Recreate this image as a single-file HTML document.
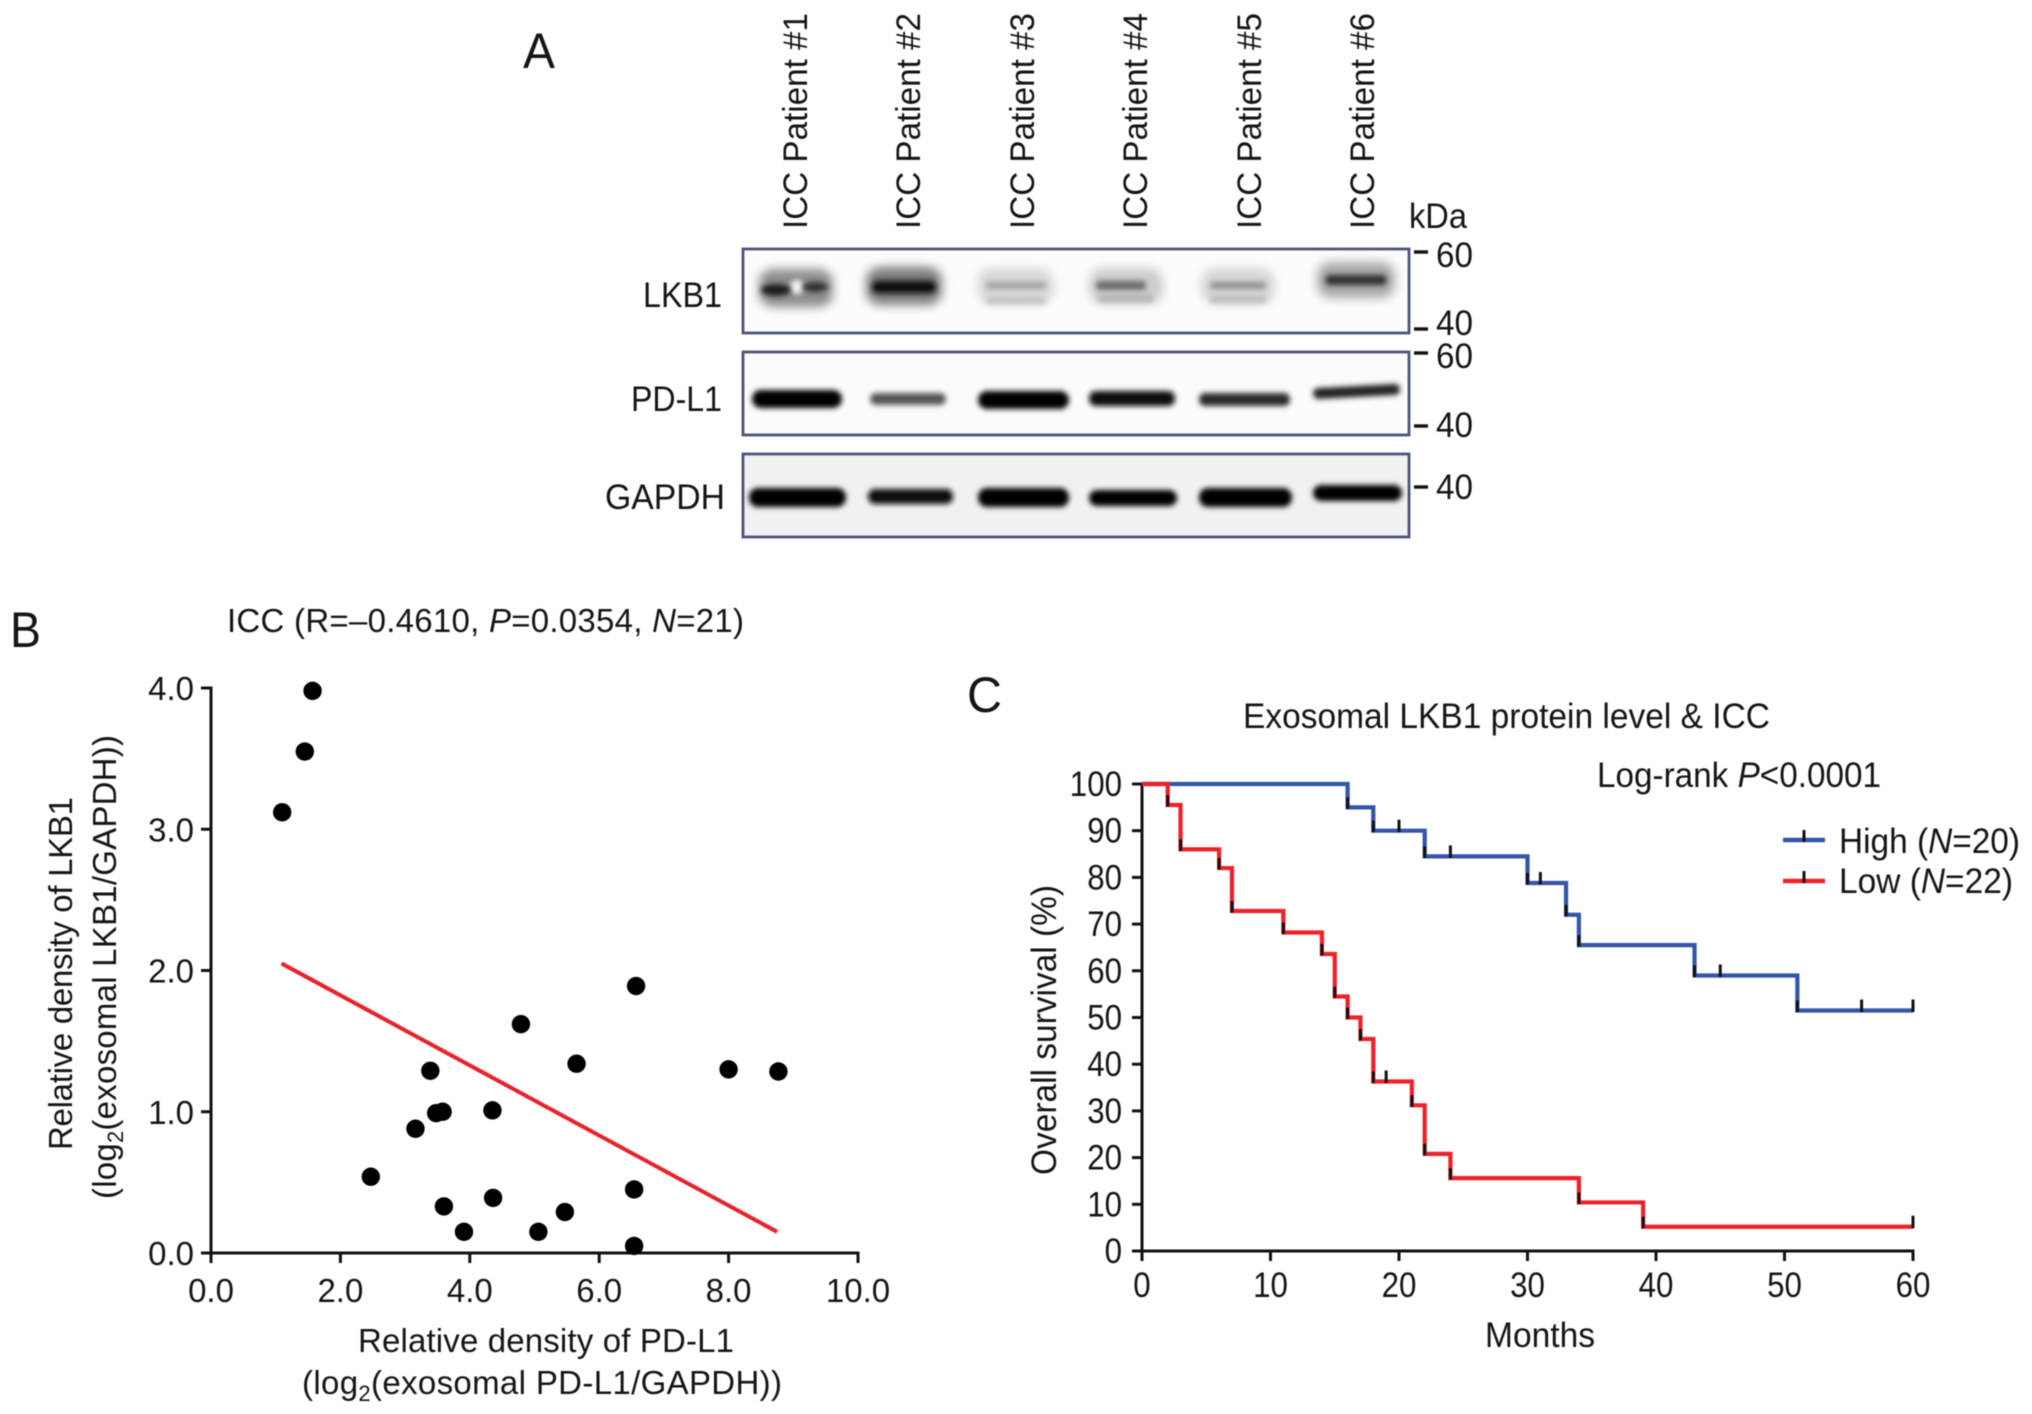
<!DOCTYPE html>
<html lang="en">
<head>
<meta charset="utf-8">
<title>Exosomal LKB1 and PD-L1 in ICC</title>
<style>
html,body{margin:0;padding:0;background:#fff;}
svg{display:block;filter:blur(0.6px);}
text{font-family:"Liberation Sans",Arial,sans-serif;fill:#151515;font-size:33px;}
</style>
</head>
<body>
<svg id="figure" xmlns="http://www.w3.org/2000/svg" width="2032" height="1414" viewBox="0 0 2032 1414">
<defs>
<filter id="b2" x="-30%" y="-100%" width="160%" height="300%"><feGaussianBlur stdDeviation="2.6"/></filter>
<filter id="b4" x="-30%" y="-60%" width="160%" height="220%"><feGaussianBlur stdDeviation="5"/></filter>
<clipPath id="clipL"><rect x="743" y="249" width="666" height="84"/></clipPath>
<clipPath id="clipP"><rect x="743" y="352" width="666" height="83"/></clipPath>
<clipPath id="clipG"><rect x="743" y="454" width="666" height="83"/></clipPath>
</defs>
<rect width="2032" height="1414" fill="#fff"/>

<g>
<text x="523" y="68" style="font-size:50px" textLength="32" lengthAdjust="spacingAndGlyphs">A</text>
<text transform="translate(807,229) rotate(-90)" style="font-size:34px" textLength="216" lengthAdjust="spacingAndGlyphs">ICC Patient #1</text>
<text transform="translate(920,229) rotate(-90)" style="font-size:34px" textLength="216" lengthAdjust="spacingAndGlyphs">ICC Patient #2</text>
<text transform="translate(1034,229) rotate(-90)" style="font-size:34px" textLength="216" lengthAdjust="spacingAndGlyphs">ICC Patient #3</text>
<text transform="translate(1147,229) rotate(-90)" style="font-size:34px" textLength="216" lengthAdjust="spacingAndGlyphs">ICC Patient #4</text>
<text transform="translate(1261,229) rotate(-90)" style="font-size:34px" textLength="216" lengthAdjust="spacingAndGlyphs">ICC Patient #5</text>
<text transform="translate(1374,229) rotate(-90)" style="font-size:34px" textLength="216" lengthAdjust="spacingAndGlyphs">ICC Patient #6</text>
<text x="1409" y="228" style="font-size:35px" textLength="58" lengthAdjust="spacingAndGlyphs">kDa</text>

<g>
<rect x="743" y="249" width="666" height="84" fill="#fcfcfc"/>
<g clip-path="url(#clipL)">
<rect x="759" y="269" width="74" height="38" rx="14" fill="#8c8c8c" filter="url(#b4)"/>
<rect x="866" y="267" width="76" height="38" rx="14" fill="#7c7c7c" filter="url(#b4)"/>
<rect x="977" y="268" width="77" height="36" rx="14" fill="#d8d8d8" filter="url(#b4)"/>
<rect x="1089" y="268" width="74" height="36" rx="14" fill="#cccccc" filter="url(#b4)"/>
<rect x="1201" y="268" width="74" height="36" rx="14" fill="#d6d6d6" filter="url(#b4)"/>
<rect x="1317" y="262" width="78" height="36" rx="14" fill="#a8a8a8" filter="url(#b4)"/>
<ellipse cx="797" cy="287" rx="7" ry="7" fill="#f4f4f4" filter="url(#b2)"/>
<ellipse cx="776" cy="290" rx="15" ry="6" fill="#1c1c1c" filter="url(#b2)"/>
<ellipse cx="815" cy="287" rx="13" ry="5" fill="#333" filter="url(#b2)"/>
<rect x="872" y="281" width="64" height="12" rx="6" fill="#0c0c0c" filter="url(#b2)"/>
<rect x="986" y="282" width="60" height="7" rx="3" fill="#a2a2a2" filter="url(#b2)"/>
<rect x="986" y="297" width="60" height="7" rx="3" fill="#c2c2c2" filter="url(#b2)"/>
<rect x="1096" y="281" width="50" height="9" rx="4" fill="#6c6c6c" filter="url(#b2)"/>
<rect x="1098" y="295" width="56" height="7" rx="3" fill="#b5b5b5" filter="url(#b2)"/>
<rect x="1210" y="282" width="56" height="7" rx="3" fill="#8e8e8e" filter="url(#b2)"/>
<rect x="1210" y="296" width="56" height="7" rx="3" fill="#bbbbbb" filter="url(#b2)"/>
<rect x="1325" y="275" width="62" height="10" rx="5" fill="#333" filter="url(#b2)"/>
</g>
<rect x="743" y="249" width="666" height="84" fill="none" stroke="#4c5378" stroke-width="2.8"/>
</g>

<g>
<rect x="743" y="352" width="666" height="83" fill="#fbfbfb"/>
<g clip-path="url(#clipP)">
<rect x="752" y="390" width="90" height="18" rx="9" fill="#000" filter="url(#b2)"/>
<rect x="870" y="393" width="76" height="12" rx="6" fill="#555" filter="url(#b2)"/>
<rect x="978" y="391" width="91" height="18" rx="9" fill="#050505" filter="url(#b2)"/>
<rect x="1089" y="391" width="86" height="15" rx="7" fill="#0a0a0a" filter="url(#b2)"/>
<rect x="1199" y="393" width="91" height="13" rx="6" fill="#2c2c2c" filter="url(#b2)"/>
<rect x="1313" y="386" width="87" height="11" rx="5" fill="#222" filter="url(#b2)" transform="rotate(-3 1356 391)"/>
</g>
<rect x="743" y="352" width="666" height="83" fill="none" stroke="#4c5378" stroke-width="2.8"/>
</g>

<g>
<rect x="743" y="454" width="666" height="83" fill="#f1f1f1"/>
<g clip-path="url(#clipG)">
<rect x="749" y="488" width="97" height="19" rx="9" fill="#000" filter="url(#b2)"/>
<rect x="868" y="489" width="85" height="15" rx="7" fill="#0a0a0a" filter="url(#b2)"/>
<rect x="978" y="488" width="91" height="19" rx="9" fill="#000" filter="url(#b2)"/>
<rect x="1089" y="490" width="88" height="16" rx="8" fill="#050505" filter="url(#b2)"/>
<rect x="1199" y="488" width="93" height="19" rx="9" fill="#000" filter="url(#b2)"/>
<rect x="1313" y="485" width="89" height="16" rx="8" fill="#050505" filter="url(#b2)"/>
</g>
<rect x="743" y="454" width="666" height="83" fill="none" stroke="#4c5378" stroke-width="2.8"/>
</g>

<text x="643" y="307" style="font-size:35px" textLength="79" lengthAdjust="spacingAndGlyphs">LKB1</text>
<text x="631" y="411" style="font-size:35px" textLength="91" lengthAdjust="spacingAndGlyphs">PD-L1</text>
<text x="605" y="509" style="font-size:35px" textLength="120" lengthAdjust="spacingAndGlyphs">GAPDH</text>

<g stroke="#111" stroke-width="3.4">
<line x1="1414" x2="1428" y1="252" y2="252"/>
<line x1="1414" x2="1428" y1="329" y2="329"/>
<line x1="1414" x2="1428" y1="353" y2="353"/>
<line x1="1414" x2="1428" y1="426" y2="426"/>
<line x1="1414" x2="1428" y1="487" y2="487"/>
</g>
<text x="1436" y="267" style="font-size:35px" textLength="37" lengthAdjust="spacingAndGlyphs">60</text>
<text x="1436" y="335" style="font-size:35px" textLength="37" lengthAdjust="spacingAndGlyphs">40</text>
<text x="1436" y="368" style="font-size:35px" textLength="37" lengthAdjust="spacingAndGlyphs">60</text>
<text x="1436" y="437" style="font-size:35px" textLength="37" lengthAdjust="spacingAndGlyphs">40</text>
<text x="1436" y="499" style="font-size:35px" textLength="37" lengthAdjust="spacingAndGlyphs">40</text>
</g>

<g id="panelB">
<text x="10" y="647" style="font-size:50px" textLength="31" lengthAdjust="spacingAndGlyphs">B</text>
<text x="227" y="632" textLength="517">ICC (R=–0.4610, <tspan font-style="italic">P</tspan>=0.0354, <tspan font-style="italic">N</tspan>=21)</text>
<text transform="translate(72,1150) rotate(-90)" textLength="353">Relative density of LKB1</text>
<text transform="translate(116,1199) rotate(-90)" textLength="464">(log<tspan dy="7" style="font-size:22px">2</tspan><tspan dy="-7">(exosomal LKB1/GAPDH))</tspan></text>
<text x="358" y="1352" textLength="376">Relative density of PD-L1</text>
<text x="302" y="1394" textLength="480">(log<tspan dy="7" style="font-size:22px">2</tspan><tspan dy="-7">(exosomal PD-L1/GAPDH))</tspan></text>
</g>

<g id="panelC">
<text x="967" y="712" style="font-size:50px" textLength="35" lengthAdjust="spacingAndGlyphs">C</text>
<text x="1243" y="728" style="font-size:35px" textLength="527" lengthAdjust="spacingAndGlyphs">Exosomal LKB1 protein level &amp; ICC</text>
<text x="1597" y="787" style="font-size:35px" textLength="284" lengthAdjust="spacingAndGlyphs">Log-rank <tspan font-style="italic">P</tspan>&lt;0.0001</text>
<text transform="translate(1056,1175) rotate(-90)" style="font-size:35px" textLength="290" lengthAdjust="spacingAndGlyphs">Overall survival (%)</text>
<text x="1485" y="1347" style="font-size:35px" textLength="110" lengthAdjust="spacingAndGlyphs">Months</text>
<g>
<line x1="1783" x2="1825" y1="840" y2="840" stroke="#3355aa" stroke-width="4.4"/>
<line x1="1804" x2="1804" y1="830" y2="842" stroke="#111" stroke-width="3"/>
<text x="1839" y="853" style="font-size:35px" textLength="181" lengthAdjust="spacingAndGlyphs">High (<tspan font-style="italic">N</tspan>=20)</text>
</g>
<g>
<line x1="1783" x2="1825" y1="881" y2="881" stroke="#ef2028" stroke-width="4.4"/>
<line x1="1804" x2="1804" y1="871" y2="883" stroke="#111" stroke-width="3"/>
<text x="1839" y="893" style="font-size:35px" textLength="174" lengthAdjust="spacingAndGlyphs">Low (<tspan font-style="italic">N</tspan>=22)</text>
</g>
</g>
</svg>
<script>
// Scatter data (panel B)
const pdl1Values = [1.57,1.45,1.1,6.57,4.79,5.65,3.39,8.0,8.77,3.48,3.58,4.35,3.16,2.47,6.54,3.6,4.36,5.47,3.91,5.06,6.54];
const lkb1Values = [3.98,3.55,3.12,1.89,1.62,1.34,1.29,1.3,1.285,0.99,1.0,1.01,0.88,0.54,0.45,0.33,0.39,0.29,0.15,0.15,0.05];
const fitLineX = [1.09,8.75];
const fitLineY = [2.05,0.15];
const scatterXTicks = [0,2,4,6,8,10];
const scatterYTicks = [0,1,2,3,4];
const scatterXLabels = ['0.0','2.0','4.0','6.0','8.0','10.0'];
const scatterYLabels = ['0.0','1.0','2.0','3.0','4.0'];

// Survival data (panel C)
const highTimes = [0,16,18,22,30,33,34,43,51,60];
const highSurvival = [100,95,90,84.5,78.8,72,65.5,59,51.5,51.5];
const highCensorTimes = [20,24,31,45,56,60];
const highCensorLevels = [90,84.5,78.8,59,51.5,51.5];
const lowTimes = [0,2,3,6,7,11,14,15,16,17,18,21,22,24,34,39,60];
const lowSurvival = [100,95.5,86,82,72.8,68.2,63.6,54.5,50,45.4,36.3,31.2,20.8,15.6,10.4,5.2,5.2];
const lowCensorTimes = [19,60];
const lowCensorLevels = [36.3,5.2];
const survivalXTicks = [0,10,20,30,40,50,60];
const survivalYTicks = [0,10,20,30,40,50,60,70,80,90,100];

const NS = 'http://www.w3.org/2000/svg';
const panelB = document.getElementById('panelB');
const panelC = document.getElementById('panelC');

function sx(v){ return 211 + v * (858 - 211) / 10; }
function sy(v){ return 1253 - v * (1253 - 688) / 4; }
function cx(v){ return 1142 + v * (1913 - 1142) / 60; }
function cy(v){ return 1251 - v * (1251 - 784) / 100; }

function mk(parent, tag, attrs, content){
  const el = document.createElementNS(NS, tag);
  for (const k in attrs) el.setAttribute(k, attrs[k]);
  if (content !== undefined) el.textContent = content;
  parent.appendChild(el);
  return el;
}

// Panel B axes
const bXAxis = mk(panelB, 'line', {x1:sx(0)-1.5, x2:sx(10)+1.5, y1:sy(0), y2:sy(0), stroke:'#111', 'stroke-width':3});


const bYAxis = mk(panelB, 'line', {x1:sx(0), x2:sx(0), y1:sy(0)+1.5, y2:sy(4)-1.5, stroke:'#111', 'stroke-width':3});


scatterXTicks.forEach(function(v, i){
  const t = mk(panelB, 'line', {x1:sx(v), x2:sx(v), y1:sy(0), y2:sy(0)+10, stroke:'#111', 'stroke-width':3});
  
  
  const l = mk(panelB, 'text', {x:sx(v), y:1302, 'text-anchor':'middle'}, scatterXLabels[i]);
  
  
});
scatterYTicks.forEach(function(v, i){
  const t = mk(panelB, 'line', {x1:sx(0)-10, x2:sx(0), y1:sy(v), y2:sy(v), stroke:'#111', 'stroke-width':3});
  
  
  const l = mk(panelB, 'text', {x:194, y:sy(v)+12, 'text-anchor':'end'}, scatterYLabels[i]);
  
  
});
const fit = mk(panelB, 'line', {x1:sx(fitLineX[0]), y1:sy(fitLineY[0]), x2:sx(fitLineX[1]), y2:sy(fitLineY[1]), stroke:'#e8222a', 'stroke-width':4});


pdl1Values.forEach(function(v, i){
  const p = mk(panelB, 'circle', {cx:sx(v), cy:sy(lkb1Values[i]), r:9.2, fill:'#000'});
  
  
});

// Panel C axes
const cXAxis = mk(panelC, 'line', {x1:cx(0)-1.5, x2:cx(60)+1.5, y1:cy(0), y2:cy(0), stroke:'#111', 'stroke-width':3});


const cYAxis = mk(panelC, 'line', {x1:cx(0), x2:cx(0), y1:cy(0)+1.5, y2:cy(100)-1.5, stroke:'#111', 'stroke-width':3});


survivalXTicks.forEach(function(v){
  const t = mk(panelC, 'line', {x1:cx(v), x2:cx(v), y1:cy(0), y2:cy(0)+10, stroke:'#111', 'stroke-width':3});
  
  
  const s = String(v);
  const l = mk(panelC, 'text', {x:cx(v), y:1297, 'text-anchor':'middle', style:'font-size:35px', textLength:s.length * 17.4, lengthAdjust:'spacingAndGlyphs'}, s);
  
  
});
survivalYTicks.forEach(function(v){
  const t = mk(panelC, 'line', {x1:cx(0)-10, x2:cx(0), y1:cy(v), y2:cy(v), stroke:'#111', 'stroke-width':3});
  
  
  const s = String(v);
  const l = mk(panelC, 'text', {x:1122, y:cy(v)+12, 'text-anchor':'end', style:'font-size:35px', textLength:s.length * 17.4, lengthAdjust:'spacingAndGlyphs'}, s);
  
  
});

function stepPath(times, vals){
  let d = 'M' + cx(times[0]) + ' ' + cy(vals[0]);
  for (let i = 1; i < times.length; i++){
    d += 'H' + cx(times[i]) + 'V' + cy(vals[i]);
  }
  return d;
}
function drawCurve(name, times, vals, cTimes, cLevels, color){
  const path = mk(panelC, 'path', {d:stepPath(times, vals), fill:'none', stroke:color, 'stroke-width':4.2, 'stroke-linejoin':'miter'});
  
  
  for (let i = 1; i < times.length - 1; i++){
    const e = mk(panelC, 'line', {x1:cx(times[i]), x2:cx(times[i]), y1:cy(vals[i])+1.5, y2:cy(vals[i])-10, stroke:'#111', 'stroke-width':3});
    
    
  }
  cTimes.forEach(function(t, i){
    const c = mk(panelC, 'line', {x1:cx(t), x2:cx(t), y1:cy(cLevels[i])+1.5, y2:cy(cLevels[i])-11, stroke:'#111', 'stroke-width':3});
    
    
  });
}
drawCurve('high', highTimes, highSurvival, highCensorTimes, highCensorLevels, '#3355aa');
drawCurve('low', lowTimes, lowSurvival, lowCensorTimes, lowCensorLevels, '#ef2028');
</script>
</body>
</html>
